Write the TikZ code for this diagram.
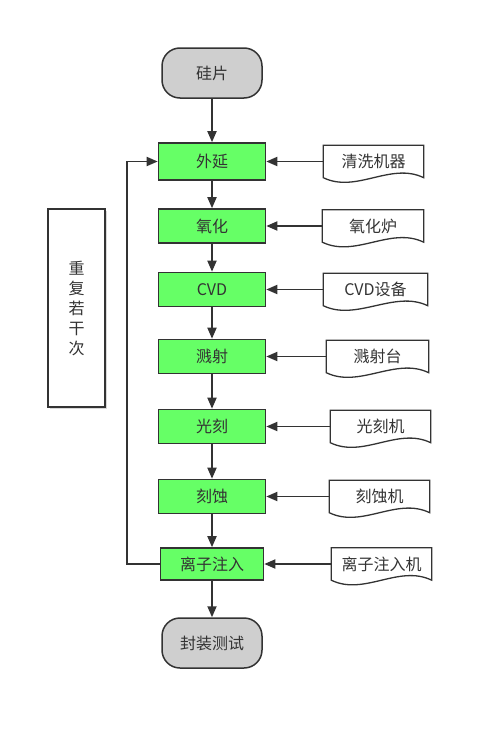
\documentclass[tikz,border=0pt]{standalone}
\usepackage{fontspec}
\newfontfamily\cjk{Noto Sans CJK SC}
\usepackage{xcolor}
\usetikzlibrary{arrows.meta, positioning, shadows}

\definecolor{lineclr}{HTML}{333333}
\definecolor{stepgreen}{HTML}{66FF66}
\definecolor{termgray}{HTML}{CFCFCF}

\begin{document}
\begin{tikzpicture}[
  x=1pt, y=-1pt,
  font=\cjk\fontsize{16}{20}\selectfont,
  text=lineclr,
  term/.style={rectangle, rounded corners=18pt, draw=lineclr, line width=1.5pt,
               minimum width=100pt, minimum height=50pt, fill=termgray},
  proc/.style={rectangle, draw=lineclr, line width=1.6pt, inner sep=0pt,
               minimum width=107pt, minimum height=34pt, fill=stepgreen},
  doc/.style={rectangle, inner sep=0pt, minimum width=100pt, minimum height=32pt},
  docline/.style={draw=lineclr, line width=1.3pt},
  note/.style={rectangle, draw=lineclr, line width=1.3pt, fill=white,
               minimum width=57pt, minimum height=198pt, align=center,
               drop shadow={shadow xshift=1.5pt, shadow yshift=-1.5pt, fill=black!30}},
  arr/.style={-{Triangle[length=11pt, width=9pt]}, draw=lineclr, line width=1.8pt}
]
\useasboundingbox (0,0) rectangle (493,731);

% ---- Main process column ----
\node[term] (wafer) at (212,73) {硅片};
\node[proc, minimum height=37pt] (epi) at (212,161.5) {外延};
\node[proc] (oxid)  at (212,226)   {氧化};
\node[proc] (cvd)   at (212,289.5) {CVD};
\node[proc] (sput)  at (212,356.5) {溅射};
\node[proc] (litho) at (212,426.5) {光刻};
\node[proc] (etch)  at (212,496.5) {刻蚀};
\node[proc, minimum width=103pt, minimum height=32pt] (ion) at (212,564) {离子注入};
\node[term] (pack)  at (212,643)   {封装测试};

\draw[arr] (wafer) -- (epi);
\draw[arr] (epi)   -- (oxid);
\draw[arr] (oxid)  -- (cvd);
\draw[arr] (cvd)   -- (sput);
\draw[arr] (sput)  -- (litho);
\draw[arr] (litho) -- (etch);
\draw[arr] (etch)  -- (ion);
\draw[arr] (ion)   -- (pack);

% ---- Equipment (document shapes) ----
\node[doc, right=57pt of epi]                       (clean)     {清洗机器};
\node[doc, right=56pt of oxid, minimum width=101pt] (furnace)   {氧化炉};
\node[doc, right=57pt of cvd, minimum width=104pt]  (cvdtool)   {CVD设备};
\node[doc, right=60pt of sput, minimum width=102pt] (sputtool)  {溅射台};
\node[doc, right=64pt of litho]                     (lithotool) {光刻机};
\node[doc, right=63pt of etch]                      (etchtool)  {刻蚀机};
\node[doc, right=67pt of ion]                       (iontool)   {离子注入机};

\foreach \d in {clean, furnace, cvdtool, sputtool, lithotool, etchtool, iontool}
  \draw[docline] (\d.north west) -- (\d.north east) -- (\d.south east)
    .. controls ([xshift=-33pt, yshift=16pt]\d.south east)
    and ([xshift=33pt, yshift=-16pt]\d.south west) .. (\d.south west) -- cycle;

\draw[arr] (clean)     -- (epi);
\draw[arr] (furnace)   -- (oxid);
\draw[arr] (cvdtool)   -- (cvd);
\draw[arr] (sputtool)  -- (sput);
\draw[arr] (lithotool) -- (litho);
\draw[arr] (etchtool)  -- (etch);
\draw[arr] (iontool)   -- (ion);

% ---- Repeat loop ----
\node[note] (repeat) at (76.5,308) {重\\复\\若\\干\\次};
\draw[arr] (ion.west) -- ++(-33pt,0) |- (epi.west);

\end{tikzpicture}
\end{document}
